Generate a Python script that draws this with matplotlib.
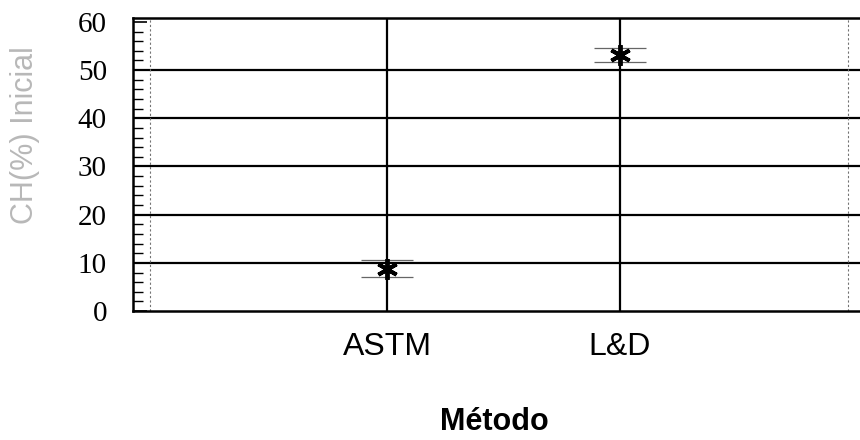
import matplotlib.pyplot as plt
import numpy as np

# data
metodos = ['ASTM', 'L&D']
ch_inicial = [8.8, 53.1]
erro = [1.8, 1.5]
yticks = [0, 10, 20, 30, 40, 50, 60]

fig = plt.figure(figsize=(8.6, 4.4), dpi=100)
ax = fig.add_axes([0.155, 0.293, 0.85, 0.666])

pos = np.arange(1, len(metodos) + 1)

# grid lines (thick black, like the scanned original)
for y in yticks[1:-1]:
    ax.axhline(y, color='black', lw=1.6, zorder=1)
for x in pos:
    ax.axvline(x, color='black', lw=1.6, zorder=1)
ax.axvline(-0.02, color='0.45', lw=0.8, ls=(0, (2, 2)), zorder=1)
ax.axvline(2.98, color='0.45', lw=0.8, ls=(0, (2, 2)), zorder=1)

ax.errorbar(pos, ch_inicial, yerr=erro, fmt='none', ecolor='0.4',
            elinewidth=0.8, capsize=19, capthick=0.9, zorder=2)
ax.plot(pos, ch_inicial, ls='none', marker=(6, 2, 0), ms=15,
        mew=2.8, color='black', zorder=3)

ax.set_xlim(-0.09, 3.05)
ax.set_ylim(0, 60.8)
ax.set_xticks(pos)
ax.set_xticklabels(metodos, fontsize=23, family='Liberation Sans')
ax.set_yticks(yticks)
ax.set_yticklabels([str(v) for v in yticks], fontsize=21, family='Liberation Serif')
ax.set_yticks(np.arange(0, 61, 2), minor=True)
ax.tick_params(axis='y', which='major', direction='in', length=10, width=1.2, pad=19)
ax.tick_params(axis='y', which='minor', direction='in', length=7, width=1.0)
ax.tick_params(axis='x', length=0, pad=15)

for s in ['left', 'top', 'bottom']:
    ax.spines[s].set_linewidth(1.8)
ax.spines['right'].set_visible(False)

ax.set_xlabel('Método', fontsize=22, fontweight='bold', family='Liberation Sans')
ax.xaxis.set_label_coords(0.494, -0.328)
ax.set_ylabel('CH(%) Inicial', fontsize=22, color='0.72', family='Liberation Sans')
ax.yaxis.set_label_coords(-0.128, 0.6)

fig.savefig('out.png', dpi=100)
